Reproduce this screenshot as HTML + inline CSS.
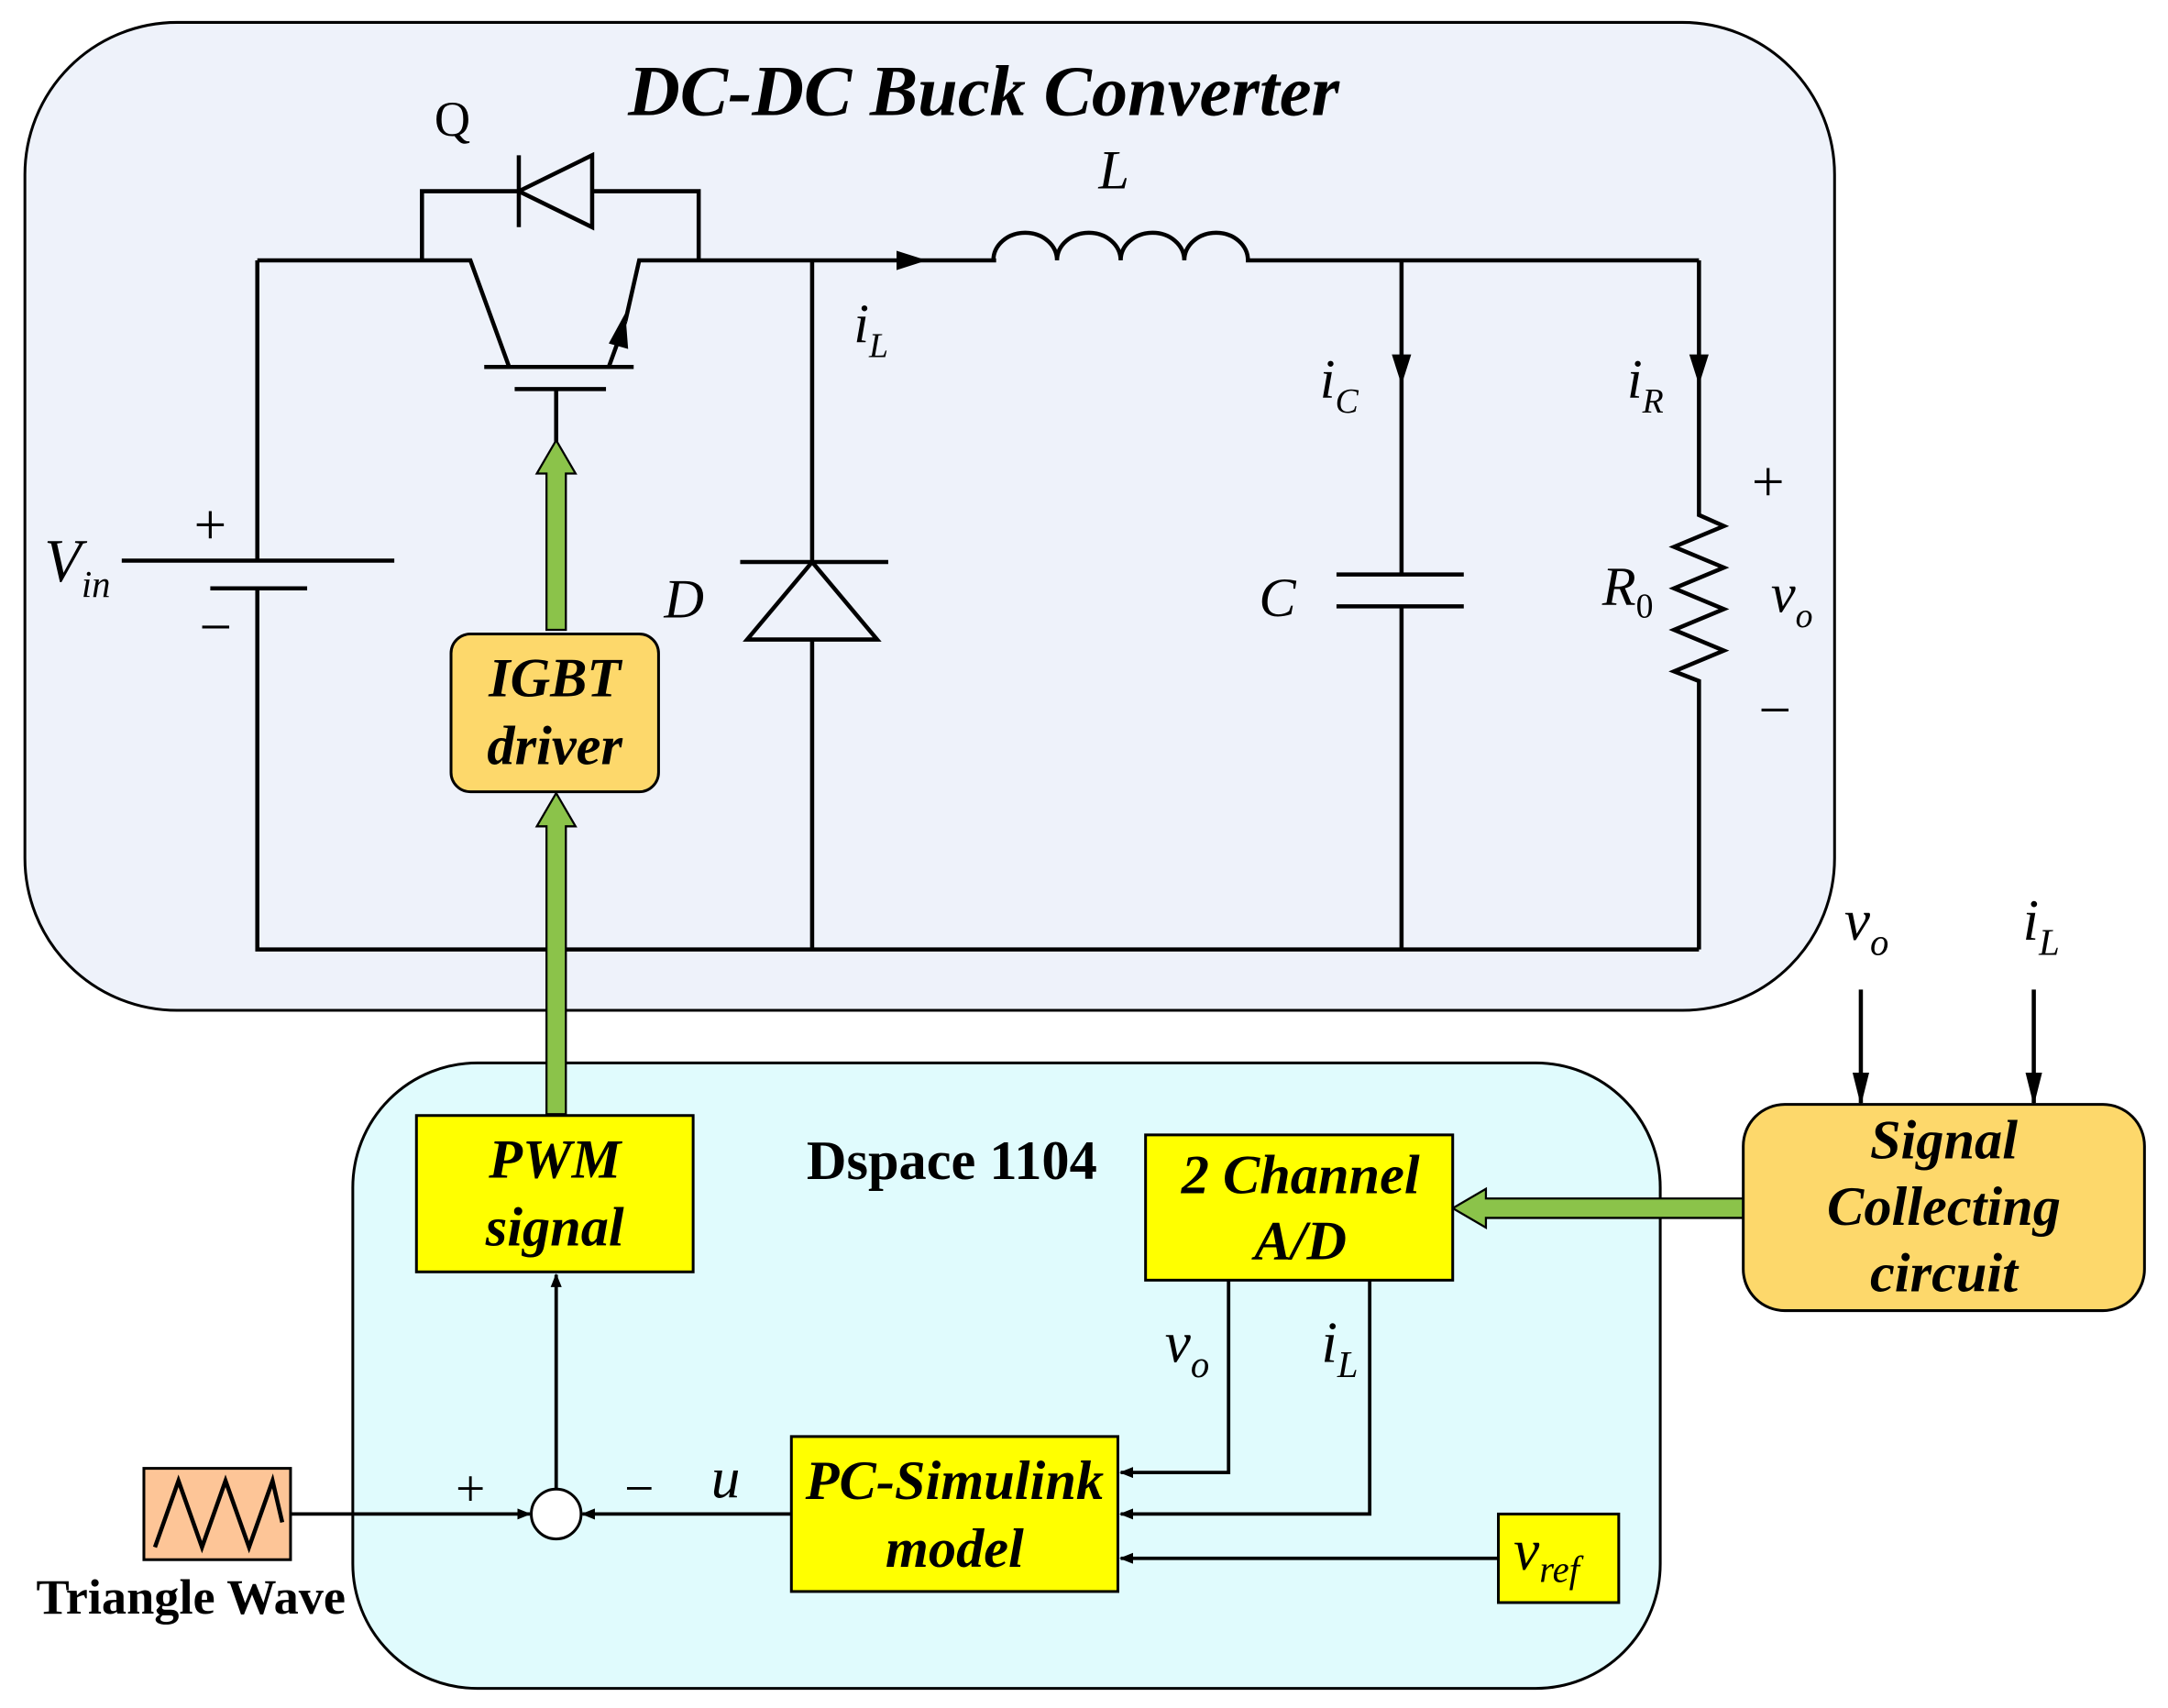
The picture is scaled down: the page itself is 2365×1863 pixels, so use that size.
<!DOCTYPE html>
<html><head><meta charset="utf-8"><style>
html,body{margin:0;padding:0;background:#fff;}
svg{display:block;}
text{font-family:"Liberation Serif",serif;}
</style></head><body>
<svg width="2365" height="1863" viewBox="0 0 1567 1234" xmlns="http://www.w3.org/2000/svg">
<defs>
<marker id="ah" markerWidth="10" markerHeight="8" refX="9" refY="4" orient="auto" markerUnits="userSpaceOnUse"><path d="M0,0 L10,4 L0,8 Z" fill="#000"/></marker>
<marker id="ahb" markerWidth="24" markerHeight="12" refX="22" refY="6" orient="auto" markerUnits="userSpaceOnUse"><path d="M0,0 L24,6 L0,12 Z" fill="#000"/></marker>
</defs>
<rect width="1567" height="1234" fill="#fff"/>
<rect x="18" y="16" width="1308" height="714" rx="110" fill="#eef2fa" stroke="#000" stroke-width="2"/>
<text x="711" y="83" font-size="52" font-weight="bold" font-style="italic" text-anchor="middle">DC-DC Buck Converter</text>
<rect x="255" y="768" width="945" height="452" rx="90" fill="#e0fbfd" stroke="#000" stroke-width="2"/>

<g stroke="#000" stroke-width="3" fill="none">
<path d="M186,188 V405 M186,425 V686 H1228"/>
<path d="M88,405 H285"/>
<path d="M152,425 H222"/>
<path d="M186,188 H340 L368,265"/>
<path d="M305,188 V138 H375 M428,138 H505 V188"/>
<path d="M375,112 V164"/>
<path d="M428,112 L375,138 L428,164 Z"/>
<path d="M440,265 L452,232 M452,232 L462,188 H720"/>
<path d="M350,265 H458"/>
<path d="M372,281 H438"/>
<path d="M402,281 V320"/>
<path d="M718,188 a23,20 0 0 1 46,0 a23,20 0 0 1 46,0 a23,20 0 0 1 46,0 a23,20 0 0 1 46,0 H1228"/>
<path d="M587,188 V406 M587,462 V686"/>
<path d="M587,406 L540,462 H634 Z"/>
<path d="M535,406 H642"/>
<path d="M1013,188 V415 M1013,438 V686"/>
<path d="M966,415 H1058 M966,438 H1058"/>
<path d="M1228,188 V372 L1246,380 L1210,395 L1246,410 L1210,425 L1246,440 L1210,455 L1246,470 L1210,485 L1228,492 V686"/>
</g>
<path d="M670,188 L648,181 L648,195 Z" fill="#000"/>
<path d="M1013,278 L1006,256 L1020,256 Z" fill="#000"/>
<path d="M1228,278 L1221,256 L1235,256 Z" fill="#000"/>
<path d="M452,226 L440,248 L454,252 Z" fill="#000"/>

<g font-size="40" font-style="italic">
<text x="314" y="98" font-style="normal" font-size="36">Q</text>
<text x="794" y="136">L</text>
<text x="617" y="247">i<tspan font-size="25" dy="11">L</tspan></text>
<text x="954" y="287">i<tspan font-size="25" dy="11">C</tspan></text>
<text x="1176" y="287">i<tspan font-size="25" dy="11">R</tspan></text>
<text x="1158" y="437">R<tspan font-size="25" dy="9" font-style="normal">0</tspan></text>
<text x="1280" y="442">v<tspan font-size="25" dy="11">o</tspan></text>
<text x="910" y="445">C</text>
<text x="480" y="446">D</text>
<text x="32" y="420" font-size="44">V<tspan font-size="27" dy="11">in</tspan></text>
</g>
<g font-size="42">
<text x="1278" y="362" text-anchor="middle">+</text>
<text x="1283" y="527" text-anchor="middle">−</text>
<text x="152" y="393" text-anchor="middle">+</text>
<text x="156" y="467" text-anchor="middle">−</text>
</g>

<g fill="#8bc34a" stroke="#000" stroke-width="1.5">
<path d="M395,455 V342 H388 L402,318 L416,342 H409 V455 Z"/>
<path d="M395,805 V597 H388 L402,573 L416,597 H409 V805 Z"/>
<path d="M1288,866 H1074 V859 L1050,873 L1074,887 V880 H1288 Z"/>
</g>

<rect x="326" y="458" width="150" height="114" rx="14" fill="#fdd86b" stroke="#000" stroke-width="2"/>
<text x="401" y="503" font-size="40" font-weight="bold" font-style="italic" text-anchor="middle">IGBT</text>
<text x="401" y="552" font-size="40" font-weight="bold" font-style="italic" text-anchor="middle">driver</text>

<rect x="301" y="806" width="200" height="113" fill="#ffff00" stroke="#000" stroke-width="2"/>
<text x="401" y="851" font-size="40" font-weight="bold" font-style="italic" text-anchor="middle">PWM</text>
<text x="401" y="900" font-size="40" font-weight="bold" font-style="italic" text-anchor="middle">signal</text>

<text x="688" y="852" font-size="40" font-weight="bold" text-anchor="middle">Dspace 1104</text>

<rect x="828" y="820" width="222" height="105" fill="#ffff00" stroke="#000" stroke-width="2"/>
<text x="940" y="862" font-size="40" font-weight="bold" font-style="italic" text-anchor="middle">2  Channel</text>
<text x="940" y="910" font-size="40" font-weight="bold" font-style="italic" text-anchor="middle">A/D</text>

<rect x="1260" y="798" width="290" height="149" rx="30" fill="#fdd86b" stroke="#000" stroke-width="2"/>
<text x="1405" y="837" font-size="40" font-weight="bold" font-style="italic" text-anchor="middle">Signal</text>
<text x="1405" y="885" font-size="40" font-weight="bold" font-style="italic" text-anchor="middle">Collecting</text>
<text x="1405" y="933" font-size="40" font-weight="bold" font-style="italic" text-anchor="middle">circuit</text>

<g stroke="#000" stroke-width="3" fill="none">
<path d="M1345,715 V797" marker-end="url(#ahb)"/>
<path d="M1470,715 V797" marker-end="url(#ahb)"/>
</g>

<text x="340" y="1088" font-size="38" text-anchor="middle">+</text>
<text x="462" y="1088" font-size="38" text-anchor="middle">−</text>

<rect x="572" y="1038" width="236" height="112" fill="#ffff00" stroke="#000" stroke-width="2"/>
<text x="690" y="1083" font-size="40" font-weight="bold" font-style="italic" text-anchor="middle">PC-Simulink</text>
<text x="690" y="1132" font-size="40" font-weight="bold" font-style="italic" text-anchor="middle">model</text>

<rect x="1083" y="1094" width="87" height="64" fill="#ffff00" stroke="#000" stroke-width="2"/>

<g font-size="42" font-style="italic">
<text x="1333" y="679">v<tspan font-size="27" dy="11">o</tspan></text>
<text x="1462" y="679">i<tspan font-size="27" dy="11">L</tspan></text>
<text x="842" y="984">v<tspan font-size="27" dy="11">o</tspan></text>
<text x="955" y="984">i<tspan font-size="27" dy="11">L</tspan></text>
<text x="514" y="1082">u</text>
<text x="1094" y="1134">v<tspan font-size="27" dy="9">ref</tspan></text>
</g>

<rect x="104" y="1061" width="106" height="66" fill="#fdc597" stroke="#000" stroke-width="2"/>
<path d="M112,1118 L129,1070 L146,1118 L163,1070 L180,1118 L197,1070 L204,1100" stroke="#000" stroke-width="3" fill="none"/>
<text x="138" y="1166" font-size="36" font-weight="bold" text-anchor="middle">Triangle Wave</text>

<circle cx="402" cy="1094" r="18" fill="#fff" stroke="#000" stroke-width="2"/>

<g stroke="#000" stroke-width="2.5" fill="none">
<path d="M402,1076 V921" marker-end="url(#ah)"/>
<path d="M572,1094 H421" marker-end="url(#ah)"/>
<path d="M210,1094 H383" marker-end="url(#ah)"/>
<path d="M888,925 V1064 H810" marker-end="url(#ah)"/>
<path d="M990,925 V1094 H810" marker-end="url(#ah)"/>
<path d="M1083,1126 H810" marker-end="url(#ah)"/>
</g>
</svg>
</body></html>
